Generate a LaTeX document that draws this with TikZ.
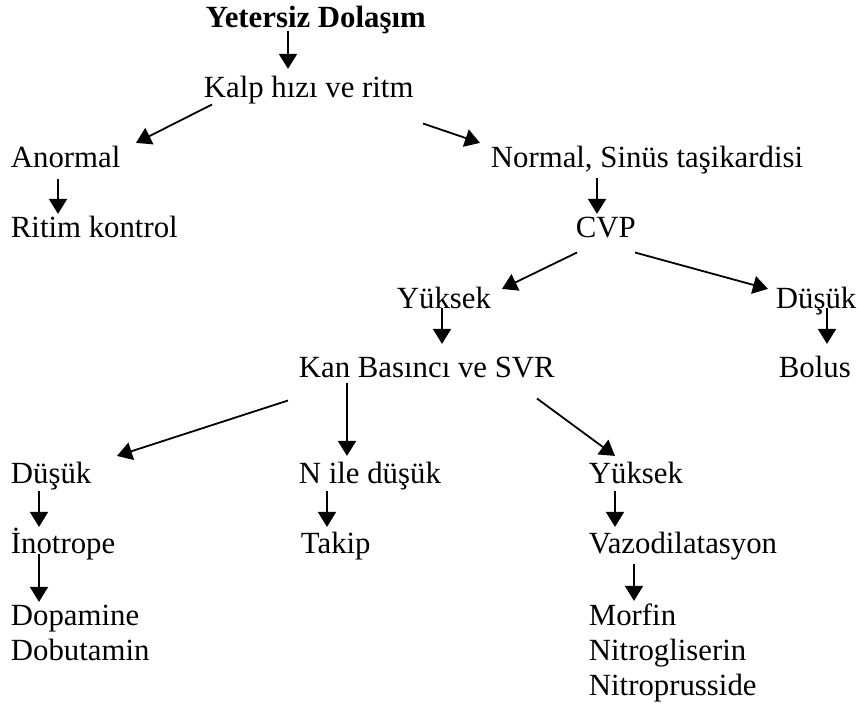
\documentclass[tikz,border=0pt]{standalone}
\usepackage{fontspec}
\setmainfont{Liberation Serif}
\usetikzlibrary{arrows.meta}

\newcommand{\fsz}{\fontsize{15.4pt}{17.5pt}\selectfont}

\begin{document}
\begin{tikzpicture}
    [x=0.5pt,y=-0.5pt,every node/.style={font=\fsz,anchor=base west,inner xsep=0pt,inner ysep=1pt,text height=10.6pt,text depth=3.3pt},
     >={Triangle[length=7.5pt,width=9pt]},line width=0.9pt]
      \useasboundingbox (0,0) rectangle (858,709);

      \node (t)[font=\fsz\bfseries] at (205,27) {Yetersiz Dolaşım};
      \node (k)   at (203,97)  {Kalp hızı ve ritm};
      \node (a)   at (10,167)  {Anormal};
      \node (rk)  at (10,237)  {Ritim kontrol};
      \node (n)   at (490,167) {Normal, Sinüs taşikardisi};
      \node (c)   at (575,237) {CVP};
      \node (y1)  at (396,308) {Yüksek};
      \node (d1)  at (775,308) {Düşük};
      \node (kb)  at (298,377) {Kan Basıncı ve SVR};
      \node (b)   at (778,377) {Bolus};

      \node (d2)  at (10,483)  {Düşük};
      \node (nd)  at (298,483) {N ile düşük};
      \node (y2)  at (588,483) {Yüksek};
      \node (i)   at (10,553)  {İnotrope};
      \node (tk)  at (300,553) {Takip};
      \node (v)   at (588,553) {Vazodilatasyon};
      \node (dd)  at (10,625)  {\begin{tabular}[t]{@{}l@{}}Dopamine\\Dobutamin\end{tabular}};
      \node (mn)  at (588,625) {\begin{tabular}[t]{@{}l@{}}Morfin\\Nitrogliserin\\Nitroprusside\end{tabular}};

      \foreach \from/\ax/\ay/\to/\bx/\by in {t/83/-6/k/85/-4, k/9/-2/a/126/0, k/220/17/n/-10/0,
                a/48/2/rk/48/1, n/107/1/c/22/1, c/2/6/y1/106/5, c/60/6/d1/-7/5,
                y1/46/-10/kb/144/-9, d1/52/-10/b/49/-9,
                kb/-10/14/d2/107/-3, kb/49/-4/nd/49/-3, kb/239/12/y2/27/-3,
                d2/29/-2/i/29/-2, i/29/-9/dd/29/1, nd/29/-2/tk/27/-2,
                y2/27/-2/v/27/-2, v/46/1/mn/46/0}
	\draw[->] ([shift={(\ax,\ay)}]\from.south west) -- ([shift={(\bx,\by)}]\to.north west);
    \end{tikzpicture}
\end{document}
